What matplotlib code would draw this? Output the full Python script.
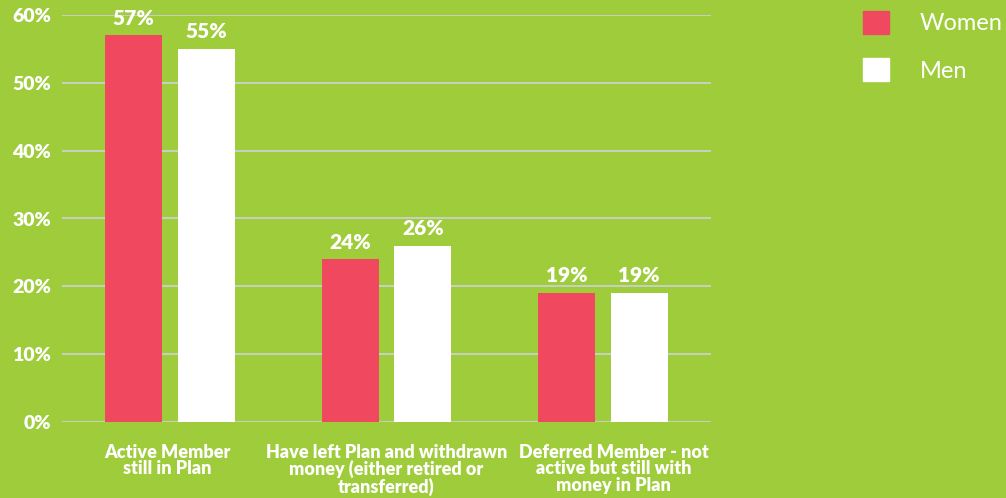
import matplotlib
matplotlib.use("Agg")
import matplotlib.pyplot as plt
import matplotlib.transforms as mtransforms
import numpy as np
from matplotlib.patches import Patch

categories = ["Active Member\nstill in Plan",
              "Have left Plan and withdrawn\nmoney (either retired or\ntransferred)",
              "Deferred Member - not\nactive but still with\nmoney in Plan"]
women = [57, 24, 19]
men = [55, 26, 19]
yticks = [0, 10, 20, 30, 40, 50, 60]

BG = "#9FCC3B"
RED = "#F0485E"
WHITE = "#FFFFFF"
GRID = "#D0D0DC"

plt.rcParams['font.family'] = ['Lato', 'DejaVu Sans']

fig = plt.figure(figsize=(10.06, 4.98), dpi=100, facecolor=BG)
ax = fig.add_axes([62/1006, 1-422/498, (711-62)/1006, (422-15)/498])
ax.set_facecolor(BG)

x = np.arange(len(categories))
w = 0.263
off = 0.168
b1 = ax.bar(x - off, women, w, color=RED, zorder=3, label="Women")
b2 = ax.bar(x + off, men, w, color=WHITE, zorder=3, label="Men")

for bars, vals in ((b1, women), (b2, men)):
    for r, v in zip(bars, vals):
        ax.annotate(f"{v}%", (r.get_x() + r.get_width()/2, v), xytext=(0, 5.5),
                    textcoords="offset points", ha="center", va="bottom",
                    color="white", fontsize=15, fontweight="heavy", zorder=4)

ax.set_xlim(-0.5, 2.5)
ax.set_ylim(0, 60)
ax.set_yticks(yticks)
ax.set_yticklabels([f"{t}%" for t in yticks], color="white", fontsize=14, fontweight="heavy")
ax.yaxis.grid(True, color=GRID, linewidth=1.2, zorder=0)
ax.set_axisbelow(True)
ax.tick_params(axis="y", length=0, pad=8)
ax.tick_params(axis="x", length=0, pad=15.5)
ax.set_xticks(x)
ax.set_xticklabels(categories, color="white", fontsize=13, fontweight="heavy", linespacing=0.97)
for s in ax.spines.values():
    s.set_visible(False)

# small horizontal nudges of the wrapped category labels (pixels)
for lbl, dx in zip(ax.get_xticklabels(), [-3, 0, 11]):
    lbl.set_transform(lbl.get_transform() + mtransforms.ScaledTranslation(dx/100, 0, fig.dpi_scale_trans))

handles = [Patch(facecolor=RED, edgecolor=RED), Patch(facecolor=WHITE, edgecolor=WHITE)]
leg = fig.legend(handles, ["Women", "Men"], loc="upper left",
                 bbox_to_anchor=(863/1006, 1 - 11/498), frameon=False,
                 borderpad=0, borderaxespad=0,
                 handlelength=1.1, handleheight=1.1, handletextpad=1.31,
                 labelspacing=1.02, fontsize=17, labelcolor="white")

fig.savefig("out.png", dpi=100, facecolor=BG)
